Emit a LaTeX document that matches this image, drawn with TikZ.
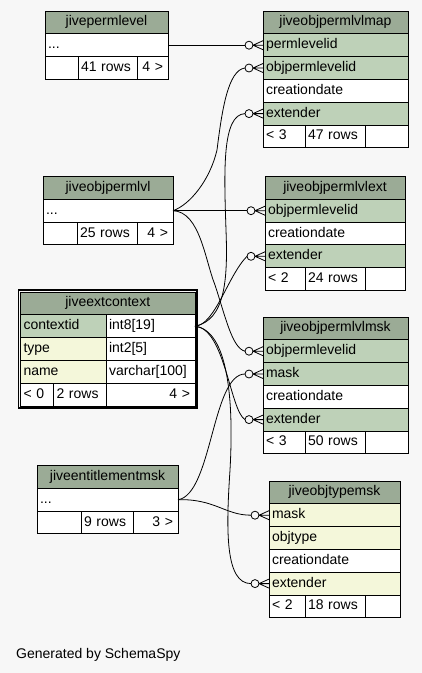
\documentclass[tikz,border=0pt]{standalone}
\usepackage{fontspec}
\setmainfont{Liberation Sans}
\usetikzlibrary{positioning,fit,calc}
\definecolor{bgc}{HTML}{F7F7F7}
\definecolor{headc}{HTML}{9BAB96}
\definecolor{keyc}{HTML}{BED1B8}
\definecolor{idxc}{HTML}{F4F7DA}
\newcommand{\tabfont}{\fontsize{14}{16}\selectfont}
\tikzset{
  cell/.style  = { draw, line width=0.9pt, rectangle, anchor=north west, inner sep=0pt, outer sep=0pt,
    minimum height=22.8pt, text height=10pt, text depth=3pt, font=\tabfont },
  hd/.style    = { cell, fill=headc, text width=#1pt, align=center },
  wcell/.style = { cell, fill=white, text width=#1pt, align=left, execute at begin node=\hspace*{3pt} },
  kcell/.style = { wcell=#1, fill=keyc },
  icell/.style = { wcell=#1, fill=idxc },
  rcell/.style = { cell, fill=white, text width=#1pt, align=right, execute at end node=\hspace*{5pt} },
  conn/.style  = { line width=0.8pt },
  crow/.pic    = { % open circle + crow's foot, tail is where the line ends
    \draw[conn] (-14,0) circle [radius=4];
    \draw[conn] (-10,0) -- (0,0) (-10,0) -- (0,4.5) (-10,0) -- (0,-4.5);
    \coordinate (-tail) at (-18,0); }
}
\begin{document}
\begin{tikzpicture}[x=1pt,y=-1pt]
  \useasboundingbox (0,0) rectangle (422,673);
  \fill[bgc] (0,0) rectangle (422,673);

  % jivepermlevel
  \node[hd=123] (pl) at (45,11) {jivepermlevel};
  \node[wcell=123] (pl-dots) at (pl.south west) {...};
  \node[wcell=33] (pl-b1) at (pl-dots.south west) {};
  \node[wcell=59] (pl-b2) at (pl-b1.north east) {41 rows};
  \node[rcell=31] (pl-b3) at (pl-b2.north east) {4 >};

  % jiveobjpermlvlmap
  \node[hd=145] (map) at (263,11) {jiveobjpermlvlmap};
  \node[kcell=145] (map-permlevelid) at (map.south west) {permlevelid};
  \node[kcell=145] (map-objpermlevelid) at (map-permlevelid.south west) {objpermlevelid};
  \node[wcell=145] (map-creationdate) at (map-objpermlevelid.south west) {creationdate};
  \node[kcell=145] (map-extender) at (map-creationdate.south west) {extender};
  \node[wcell=42] (map-b1) at (map-extender.south west) {< 3};
  \node[wcell=60] (map-b2) at (map-b1.north east) {47 rows};
  \node[wcell=43] (map-b3) at (map-b2.north east) {};

  % jiveobjpermlvl
  \node[hd=130] (opl) at (43,176.5) {jiveobjpermlvl};
  \node[wcell=130] (opl-dots) at (opl.south west) {...};
  \node[wcell=34] (opl-b1) at (opl-dots.south west) {};
  \node[wcell=60] (opl-b2) at (opl-b1.north east) {25 rows};
  \node[rcell=36] (opl-b3) at (opl-b2.north east) {4 >};

  % jiveobjpermlvlext
  \node[hd=140] (ext) at (265,176.5) {jiveobjpermlvlext};
  \node[kcell=140] (ext-objpermlevelid) at (ext.south west) {objpermlevelid};
  \node[wcell=140] (ext-creationdate) at (ext-objpermlevelid.south west) {creationdate};
  \node[kcell=140] (ext-extender) at (ext-creationdate.south west) {extender};
  \node[wcell=40] (ext-b1) at (ext-extender.south west) {< 2};
  \node[wcell=60] (ext-b2) at (ext-b1.north east) {24 rows};
  \node[wcell=40] (ext-b3) at (ext-b2.north east) {};

  % jiveextcontext
  \node[hd=174.5] (ec) at (20.5,292) {jiveextcontext};
  \node[kcell=85.5] (ec-contextid) at (ec.south west) {contextid};
  \node[wcell=89] (ec-contextid-t) at (ec-contextid.north east) {int8[19]};
  \node[icell=85.5] (ec-type) at (ec-contextid.south west) {type};
  \node[wcell=89] (ec-type-t) at (ec-type.north east) {int2[5]};
  \node[icell=85.5] (ec-name) at (ec-type.south west) {name};
  \node[wcell=89] (ec-name-t) at (ec-name.north east) {varchar[100]};
  \node[wcell=33] (ec-b1) at (ec-name.south west) {< 0};
  \node[wcell=52.5] (ec-b2) at (ec-b1.north east) {2 rows};
  \node[rcell=89] (ec-b3) at (ec-b2.north east) {4 >};
  \node[draw, line width=1.5pt, inner sep=2.2pt, fit=(ec)(ec-b3)] (ec-frame) {};

  % jiveobjpermlvlmsk
  \node[hd=145] (msk) at (263,317) {jiveobjpermlvlmsk};
  \node[kcell=145] (msk-objpermlevelid) at (msk.south west) {objpermlevelid};
  \node[kcell=145] (msk-mask) at (msk-objpermlevelid.south west) {mask};
  \node[wcell=145] (msk-creationdate) at (msk-mask.south west) {creationdate};
  \node[kcell=145] (msk-extender) at (msk-creationdate.south west) {extender};
  \node[wcell=42] (msk-b1) at (msk-extender.south west) {< 3};
  \node[wcell=60] (msk-b2) at (msk-b1.north east) {50 rows};
  \node[wcell=43] (msk-b3) at (msk-b2.north east) {};

  % jiveentitlementmsk
  \node[hd=141] (ent) at (37,465.5) {jiveentitlementmsk};
  \node[wcell=141] (ent-dots) at (ent.south west) {...};
  \node[wcell=44] (ent-b1) at (ent-dots.south west) {};
  \node[wcell=52] (ent-b2) at (ent-b1.north east) {9 rows};
  \node[rcell=45] (ent-b3) at (ent-b2.north east) {3 >};

  % jiveobjtypemsk
  \node[hd=131] (ots) at (269,481) {jiveobjtypemsk};
  \node[icell=131] (ots-mask) at (ots.south west) {mask};
  \node[icell=131] (ots-objtype) at (ots-mask.south west) {objtype};
  \node[wcell=131] (ots-creationdate) at (ots-objtype.south west) {creationdate};
  \node[icell=131] (ots-extender) at (ots-creationdate.south west) {extender};
  \node[wcell=36] (ots-b1) at (ots-extender.south west) {< 2};
  \node[wcell=60] (ots-b2) at (ots-b1.north east) {18 rows};
  \node[wcell=35] (ots-b3) at (ots-b2.north east) {};

  % crow's feet on the child rows
  \pic (mapA) at (map-permlevelid.west) {crow};
  \pic (mapB) at (map-objpermlevelid.west) {crow};
  \pic (mapC) at (map-extender.west) {crow};
  \pic (extA) at (ext-objpermlevelid.west) {crow};
  \pic (extB) at (ext-extender.west) {crow};
  \pic (mskA) at (msk-objpermlevelid.west) {crow};
  \pic (mskB) at (msk-mask.west) {crow};
  \pic (mskC) at (msk-extender.west) {crow};
  \pic (otsA) at (ots-mask.west) {crow};
  \pic (otsB) at (ots-extender.west) {crow};

  % relations
  \draw[conn] (pl-dots.east) -- (mapA-tail);
  \draw[conn] (opl-dots.east) .. controls +(17,-6) and +(-7,30) .. (217,150)
    .. controls +(5,-40) and +(-17,2) .. (mapB-tail);
  \draw[conn] (opl-dots.east) -- (extA-tail);
  \draw[conn] (opl-dots.east) .. controls +(27,1) and +(-10,-25) .. (215,285)
    .. controls +(10,30) and +(-13,-3) .. (mskA-tail);
  \draw[conn] (ec-contextid-t.east) .. controls +(30,-6) and +(2,50) .. (226,230)
    .. controls +(-2,-60) and +(-23,1) .. (mapC-tail);
  \draw[conn] (ec-contextid-t.east) .. controls +(20,-1) and +(-19,19) .. (extB-tail);
  \draw[conn] (ec-contextid-t.east) .. controls +(30,2) and +(-15,-9) .. (mskC-tail);
  \draw[conn] (ec-contextid-t.east) .. controls +(33,4) and +(4,-70) .. (230,470)
    .. controls +(-4,60) and +(-26,0) .. (otsB-tail);
  \draw[conn] (ent-dots.east) .. controls +(34,-5) and +(-33,0) .. (mskB-tail);
  \draw[conn] (ent-dots.east) .. controls +(37,-1) and +(-26,0) .. (otsA-tail);

  \node[anchor=west, font=\tabfont, inner sep=0pt] (credit) at (16,655) {Generated by SchemaSpy};
\end{tikzpicture}
\end{document}
